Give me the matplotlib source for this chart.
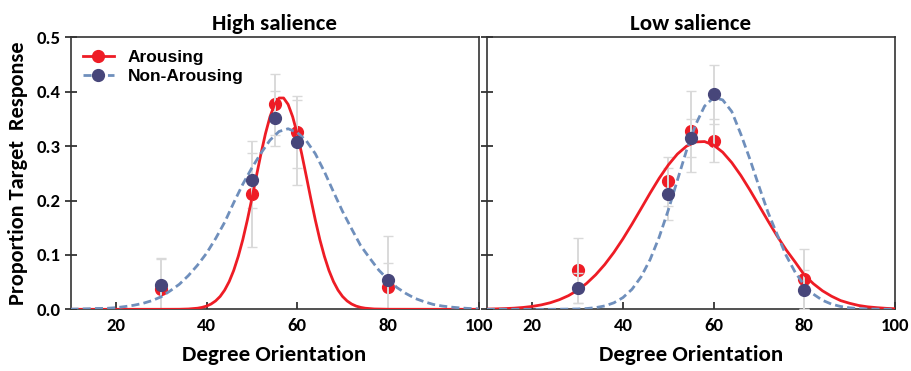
import matplotlib
matplotlib.use('Agg')
import matplotlib.pyplot as plt
from matplotlib.lines import Line2D

# ── observed proportions (points) and error bars ─────────────────────────────
orient = [30, 50, 55, 60, 80]

high_arousing = [0.038, 0.212, 0.377, 0.326, 0.041]
high_arousing_err = [0.055, 0.097, 0.056, 0.067, 0.045]
high_neutral = [0.044, 0.237, 0.351, 0.307, 0.054]
high_neutral_err = [0.050, 0.050, 0.050, 0.078, 0.080]

low_arousing = [0.072, 0.235, 0.327, 0.310, 0.055]
low_arousing_err = [0.060, 0.045, 0.075, 0.040, 0.055]
low_neutral = [0.039, 0.212, 0.315, 0.395, 0.036]
low_neutral_err = [0.028, 0.048, 0.035, 0.054, 0.036]

# ── fitted curves ────────────────────────────────────────────────────────────
fit_x = list(range(10, 101, 2))

high_arousing_fit_x = [10, 20, 30, 34, 36, 38, 39, 40, 41, 42, 43, 44, 45, 46,
                       47, 48, 49, 50, 51, 52, 53, 54, 55, 56, 57, 58, 59, 60,
                       61, 62, 63, 64, 65, 66, 67, 68, 69, 70, 71, 72, 73, 74,
                       75, 77, 80, 90, 100]
high_arousing_fit = [0, 0, 0, 0.0001, 0.0006, 0.002, 0.0035, 0.0059, 0.0097,
                     0.0154, 0.0236, 0.0353, 0.051, 0.0715, 0.0973, 0.128,
                     0.164, 0.2036, 0.245, 0.2856, 0.323, 0.354, 0.3767,
                     0.3885, 0.3885, 0.3767, 0.354, 0.323, 0.2856, 0.245,
                     0.2036, 0.164, 0.128, 0.0973, 0.0715, 0.051, 0.0353,
                     0.0236, 0.0154, 0.0097, 0.0059, 0.0035, 0.002, 0.0006,
                     0.0001, 0, 0]

high_neutral_fit = [0.0003, 0.0006, 0.001, 0.0016, 0.0018, 0.003, 0.005,
                    0.0075, 0.011, 0.016, 0.023, 0.034, 0.046, 0.062, 0.081,
                    0.103, 0.13, 0.16, 0.196, 0.23, 0.26, 0.287, 0.311, 0.327,
                    0.332, 0.325, 0.31, 0.286, 0.253, 0.216, 0.18, 0.148,
                    0.117, 0.094, 0.072, 0.055, 0.04, 0.029, 0.02, 0.014,
                    0.009, 0.006, 0.004, 0.0025, 0.0015, 0.001]

low_arousing_fit = [0.0004, 0.0008, 0.0013, 0.0021, 0.0034, 0.0053, 0.0081,
                    0.0121, 0.0177, 0.0251, 0.035, 0.0477, 0.0635, 0.0824,
                    0.1045, 0.1295, 0.1566, 0.185, 0.2137, 0.241, 0.2653,
                    0.2854, 0.2998, 0.3077, 0.3084, 0.3019, 0.2888, 0.2697,
                    0.2461, 0.2193, 0.1909, 0.1623, 0.1347, 0.1092, 0.0866,
                    0.063, 0.047, 0.034, 0.024, 0.016, 0.011, 0.007, 0.0045,
                    0.003, 0.0018, 0.001]

low_neutral_fit = [0, 0, 0, 0, 0, 0, 0, 0, 0.0002, 0.0004, 0.0006, 0.0014,
                   0.0031, 0.0062, 0.0119, 0.0215, 0.0368, 0.0596, 0.0915,
                   0.1328, 0.1823, 0.237, 0.2915, 0.339, 0.3735, 0.3893,
                   0.385, 0.3636, 0.322, 0.276, 0.226, 0.178, 0.1377, 0.0988,
                   0.0678, 0.0444, 0.0278, 0.0166, 0.0095, 0.0052, 0.0027,
                   0.0013, 0.0006, 0.0003, 0.0001, 0]

red = '#ee1c25'
navy = '#47467a'
steel = '#6f8fbc'
errgray = '#d9d9d9'
narrow = ['Carlito', 'Lato', 'DejaVu Sans']


def panel(ax, ar, ar_err, ne, ne_err, ar_fx, ar_fit, ne_fit, title):
    ax.plot(orient, ar, 'o', color=red, markersize=8.5, zorder=2)
    ax.errorbar(orient, ar, yerr=ar_err, fmt='none', ecolor=errgray,
                elinewidth=1.4, capsize=3.5, zorder=3)
    ax.errorbar(orient, ne, yerr=ne_err, fmt='none', ecolor=errgray,
                elinewidth=1.4, capsize=3.5, zorder=3)
    ax.plot(ar_fx, ar_fit, '-', color=red, lw=2, zorder=4)
    ax.plot(fit_x, ne_fit, color=steel, lw=2, linestyle=(0, (2.9, 1.5)),
            zorder=4)
    ax.plot(orient, ne, 'o', color=navy, markersize=8.5, zorder=5)

    ax.set_xlim(10, 100)
    ax.set_ylim(0, 0.5)
    ax.set_xticks([20, 40, 60, 80, 100])
    ax.set_yticks([0, 0.1, 0.2, 0.3, 0.4, 0.5])
    ax.tick_params(width=1.2, color='#222222', labelsize=13.5)
    ax.tick_params(axis='x', direction='in', length=5, pad=6)
    ax.tick_params(axis='y', direction='inout', length=8, pad=3)
    for lab in ax.get_xticklabels() + ax.get_yticklabels():
        lab.set_fontweight('heavy')
        lab.set_family(narrow)
    for s in ax.spines.values():
        s.set_linewidth(1.2)
        s.set_color('#333333')
    ax.set_title(title, fontsize=16.5, fontweight='heavy', family=narrow,
                 pad=5)
    ax.set_xlabel('Degree Orientation', fontsize=16.5, fontweight='heavy',
                  family=narrow, labelpad=8)


def main():
    fig = plt.figure(figsize=(9.11, 3.71), dpi=100)
    ax1 = fig.add_axes([0.0774, 0.1663, 0.4479, 0.733])
    ax2 = fig.add_axes([0.5344, 0.1663, 0.4481, 0.733])

    panel(ax1, high_arousing, high_arousing_err, high_neutral,
          high_neutral_err, high_arousing_fit_x, high_arousing_fit,
          high_neutral_fit, 'High salience')
    panel(ax2, low_arousing, low_arousing_err, low_neutral, low_neutral_err,
          fit_x, low_arousing_fit, low_neutral_fit, 'Low salience')

    ax1.set_yticklabels(['0.0', '0.1', '0.2', '0.3', '0.4', '0.5'])
    ax2.set_yticklabels([])
    ax1.set_ylabel('Proportion Target  Response', fontsize=16,
                   fontweight='heavy', family=narrow, labelpad=6)

    handles = [
        Line2D([], [], color=red, lw=2, marker='o', markersize=8.5),
        Line2D([], [], color=steel, lw=2, linestyle=(0, (2.9, 1.5)),
               marker='o', markersize=8.5, markerfacecolor=navy,
               markeredgecolor=navy),
    ]
    ax1.legend(handles, ['Arousing', 'Non-Arousing'], loc='upper left',
               frameon=False,
               prop={'weight': 'bold', 'size': 12.5,
                     'family': ['Liberation Sans', 'DejaVu Sans']},
               handlelength=1.8, handletextpad=0.8, borderaxespad=0.3,
               labelspacing=0.25)

    fig.savefig('out.png', dpi=100)


if __name__ == '__main__':
    main()
